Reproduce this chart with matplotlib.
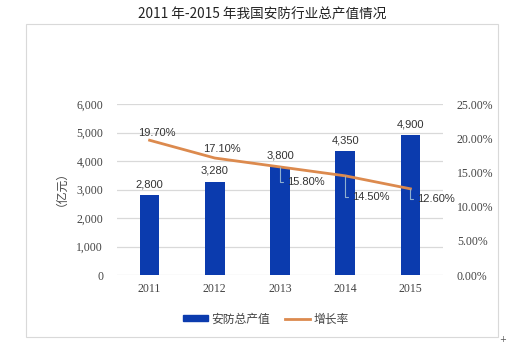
import matplotlib
matplotlib.use("Agg")
import matplotlib.pyplot as plt
from matplotlib.patches import Rectangle, Patch
from matplotlib.lines import Line2D

years = ["2011", "2012", "2013", "2014", "2015"]
output_value = [2800, 3280, 3800, 4350, 4900]
growth_rate = [19.70, 17.10, 15.80, 14.50, 12.60]
left_ticks = [0, 1000, 2000, 3000, 4000, 5000, 6000]
right_ticks = [0, 5, 10, 15, 20, 25]

W, H = 519, 346
fig = plt.figure(figsize=(W / 100, H / 100), dpi=100)
fig.patch.set_facecolor("white")

def fx(px): return px / W
def fy(py): return 1 - py / H

cjk = ["Noto Sans CJK SC", "DejaVu Sans"]
serif = "Liberation Serif"
bar_color = "#0B3BAE"
line_color = "#DC8A4E"
grid_color = "#D9D9D9"

# outer border
fig.patches.append(Rectangle((fx(26), fy(337)), fx(498) - fx(26), fy(24) - fy(337),
                             transform=fig.transFigure, fill=False,
                             edgecolor="#D9D9D9", linewidth=0.8))

fig.text(fx(262), fy(15), "2011 年-2015 年我国安防行业总产值情况",
         ha="center", va="center", fontsize=9.8, family=cjk, color="#222222")

ax = fig.add_axes([fx(117), fy(275), fx(443) - fx(117), fy(104) - fy(275)])
x = list(range(len(years)))
ax.bar(x, output_value, width=0.3, color=bar_color, zorder=2)
ax.set_xlim(-0.5, 4.5)
ax.set_ylim(0, 6000)
ax.set_yticks(left_ticks)
ax.set_yticklabels([f"{v:,}" for v in left_ticks], family=serif, fontsize=8.5, color="#444444")
ax.set_xticks(x)
ax.set_xticklabels(years, family=serif, fontsize=8.5, color="#444444")
ax.tick_params(length=0, pad=10)
ax.tick_params(axis="x", pad=6)
ax.grid(axis="y", color=grid_color, linewidth=0.9, zorder=0)
ax.set_axisbelow(True)
for s in ax.spines.values():
    s.set_visible(False)

for xi, v in zip(x, output_value):
    ax.annotate(f"{v:,}", (xi, v), xytext=(0, 6), textcoords="offset pixels",
                ha="center", va="bottom", fontsize=8, family="Liberation Sans", color="#333333")

ax2 = ax.twinx()
ax2.plot(x, growth_rate, color=line_color, linewidth=2.0, zorder=3)
ax2.set_ylim(0, 25)
ax2.set_yticks(right_ticks)
ax2.set_yticklabels([f"{v:.2f}%" for v in right_ticks], family=serif, fontsize=8.5, color="#444444")
ax2.tick_params(length=0, pad=10)
for s in ax2.spines.values():
    s.set_visible(False)

# rate labels
above_offsets = {0: (7, 7), 1: (7, 9)}
for i, r in enumerate(growth_rate):
    if i in above_offsets:
        ax2.annotate(f"{r:.2f}%", (x[i], r), xytext=above_offsets[i], textcoords="offset pixels",
                     ha="center", va="center", fontsize=8, family="Liberation Sans", color="#333333")
    else:
        dy = {2: -15, 3: -21, 4: -10}[i]
        ax2.annotate(f"{r:.2f}%", (x[i], r), xytext=(7, dy), textcoords="offset pixels",
                     ha="left", va="center", fontsize=8, family="Liberation Sans", color="#333333",
                     arrowprops=dict(arrowstyle="-", color="#8FB0D0", linewidth=0.8,
                                     shrinkA=1, shrinkB=0, relpos=(0, 0.5),
                                     connectionstyle="angle,angleA=0,angleB=90,rad=0"))

fig.text(fx(55), fy(182), "（亿元）", rotation=90, ha="center", va="center",
         fontsize=8.5, family=cjk, color="#444444")

handles = [Patch(facecolor=bar_color, edgecolor=bar_color),
           Line2D([0], [0], color=line_color, linewidth=2.0)]
leg = fig.legend(handles, ["安防总产值", "增长率"], loc="center",
                 bbox_to_anchor=(fx(266), fy(319)), ncol=2, frameon=False,
                 prop={"family": cjk, "size": 8.5}, handlelength=2.1, handleheight=0.45,
                 columnspacing=1.3, handletextpad=0.3)
for t in leg.get_texts():
    t.set_color("#444444")

fig.text(fx(503), fy(340), "+", ha="center", va="center", fontsize=6, color="#555555")

fig.savefig("out.png", dpi=100)
